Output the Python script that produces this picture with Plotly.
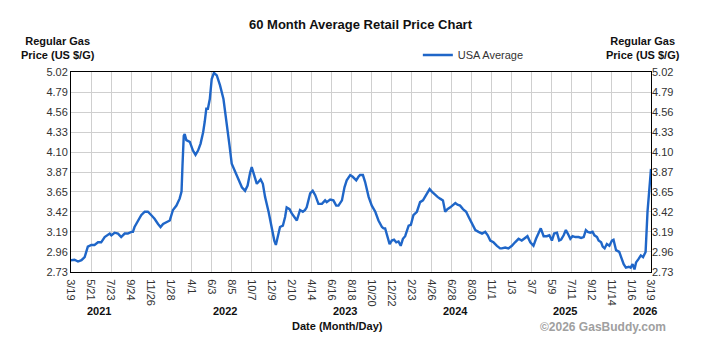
import plotly.graph_objects as go

# ---- data ----
dates = [
    "2021-03-19", "2021-03-30", "2021-04-10", "2021-04-21", "2021-05-01", "2021-05-11", "2021-05-22",
    "2021-06-01", "2021-06-12", "2021-06-22", "2021-07-03", "2021-07-13", "2021-07-19", "2021-07-24",
    "2021-08-03", "2021-08-14", "2021-08-24", "2021-09-04", "2021-09-14", "2021-09-25", "2021-09-30",
    "2021-10-05", "2021-10-16", "2021-10-26", "2021-11-06", "2021-11-16", "2021-11-27", "2021-12-07",
    "2021-12-18", "2021-12-26", "2022-01-03", "2022-01-13", "2022-01-24", "2022-02-03", "2022-02-14",
    "2022-02-24", "2022-03-02", "2022-03-05", "2022-03-09", "2022-03-12", "2022-03-17", "2022-03-28",
    "2022-04-07", "2022-04-15", "2022-04-23", "2022-05-01", "2022-05-09", "2022-05-14", "2022-05-19",
    "2022-05-24", "2022-05-30", "2022-06-05", "2022-06-12", "2022-06-21", "2022-07-01", "2022-07-12",
    "2022-07-22", "2022-07-31", "2022-08-07", "2022-08-18", "2022-08-28", "2022-09-08", "2022-09-18",
    "2022-09-26", "2022-10-04", "2022-10-09", "2022-10-14", "2022-10-25", "2022-10-30", "2022-11-06",
    "2022-11-13", "2022-11-20", "2022-12-01", "2022-12-11", "2022-12-19", "2022-12-24", "2023-01-01",
    "2023-01-06", "2023-01-15", "2023-01-22", "2023-01-27", "2023-02-05", "2023-02-12", "2023-02-23",
    "2023-02-28", "2023-03-05", "2023-03-10", "2023-03-19", "2023-03-26", "2023-03-31", "2023-04-11",
    "2023-04-19", "2023-04-27", "2023-05-07", "2023-05-18", "2023-05-28", "2023-06-02", "2023-06-13",
    "2023-06-23", "2023-07-02", "2023-07-09", "2023-07-20", "2023-07-28", "2023-08-04", "2023-08-15",
    "2023-08-23", "2023-09-03", "2023-09-10", "2023-09-15", "2023-09-24", "2023-10-01", "2023-10-12",
    "2023-10-22", "2023-11-02", "2023-11-12", "2023-11-23", "2023-11-28", "2023-12-03", "2023-12-10",
    "2023-12-17", "2023-12-24", "2023-12-31", "2024-01-07", "2024-01-14", "2024-01-21", "2024-01-28",
    "2024-02-04", "2024-02-15", "2024-02-22", "2024-03-01", "2024-03-12", "2024-03-22", "2024-03-31",
    "2024-04-07", "2024-04-14", "2024-04-21", "2024-04-28", "2024-05-09", "2024-05-16", "2024-05-24",
    "2024-06-02", "2024-06-09", "2024-06-16", "2024-06-25", "2024-07-03", "2024-07-11", "2024-07-18",
    "2024-07-26", "2024-08-04", "2024-08-14", "2024-08-22", "2024-09-01", "2024-09-12", "2024-09-22",
    "2024-10-03", "2024-10-13", "2024-10-21", "2024-10-29", "2024-11-08", "2024-11-19", "2024-11-29",
    "2024-12-04", "2024-12-15", "2024-12-25", "2025-01-05", "2025-01-15", "2025-01-26", "2025-02-05",
    "2025-02-16", "2025-02-23", "2025-03-04", "2025-03-14", "2025-03-22", "2025-03-30", "2025-04-06",
    "2025-04-15", "2025-04-25", "2025-05-03", "2025-05-11", "2025-05-18", "2025-05-27", "2025-06-03",
    "2025-06-09", "2025-06-17", "2025-06-24", "2025-06-30", "2025-07-08", "2025-07-15", "2025-07-24",
    "2025-08-03", "2025-08-11", "2025-08-19", "2025-08-26", "2025-09-01", "2025-09-09", "2025-09-16",
    "2025-09-22", "2025-09-30", "2025-10-05", "2025-10-13", "2025-10-18", "2025-10-24", "2025-10-31",
    "2025-11-08", "2025-11-16", "2025-11-21", "2025-11-29", "2025-12-09", "2025-12-15", "2025-12-23",
    "2025-12-30", "2026-01-08", "2026-01-14", "2026-01-20", "2026-01-26", "2026-01-31", "2026-02-08",
    "2026-02-15", "2026-02-22", "2026-03-02", "2026-03-08", "2026-03-14", "2026-03-19",
]
usa_average = [
    2.865, 2.87, 2.85, 2.865, 2.90, 3.02, 3.04,
    3.04, 3.07, 3.07, 3.13, 3.15, 3.17, 3.15,
    3.18, 3.17, 3.13, 3.17, 3.17, 3.19, 3.19,
    3.245, 3.32, 3.38, 3.42, 3.42, 3.38, 3.34,
    3.28, 3.245, 3.28, 3.30, 3.32, 3.44, 3.49,
    3.57, 3.65, 3.95, 4.29, 4.31, 4.24, 4.22,
    4.12, 4.07, 4.12, 4.20, 4.33, 4.45, 4.60,
    4.60, 4.71, 4.94, 5.01, 4.98, 4.87, 4.71,
    4.45, 4.18, 3.97, 3.87, 3.80, 3.70, 3.66,
    3.72, 3.87, 3.93, 3.87, 3.74, 3.76, 3.79,
    3.74, 3.59, 3.42, 3.23, 3.09, 3.04, 3.15,
    3.245, 3.26, 3.36, 3.47, 3.45, 3.40, 3.35,
    3.32, 3.38, 3.44, 3.42, 3.44, 3.47, 3.63,
    3.66, 3.61, 3.51, 3.51, 3.55, 3.53, 3.56,
    3.55, 3.49, 3.49, 3.55, 3.70, 3.78, 3.84,
    3.82, 3.78, 3.82, 3.84, 3.84, 3.76, 3.59,
    3.49, 3.42, 3.32, 3.245, 3.23, 3.23, 3.15,
    3.05, 3.09, 3.10, 3.07, 3.08, 3.03, 3.11,
    3.14, 3.26, 3.27, 3.38, 3.42, 3.53, 3.55,
    3.59, 3.63, 3.68, 3.65, 3.61, 3.59, 3.57,
    3.55, 3.42, 3.45, 3.47, 3.49, 3.52, 3.50,
    3.49, 3.45, 3.42, 3.36, 3.28, 3.21, 3.19,
    3.17, 3.19, 3.15, 3.09, 3.07, 3.03, 3.00,
    3.00, 3.01, 3.00, 3.03, 3.07, 3.11, 3.09,
    3.12, 3.14, 3.07, 3.03, 3.11, 3.17, 3.23,
    3.14, 3.14, 3.15, 3.09, 3.17, 3.18, 3.09,
    3.10, 3.15, 3.21, 3.17, 3.11, 3.14, 3.13,
    3.13, 3.12, 3.13, 3.21, 3.19, 3.18, 3.19,
    3.15, 3.13, 3.09, 3.07, 3.02, 3.00, 3.05,
    3.03, 3.09, 3.10, 2.98, 2.96, 2.90, 2.82,
    2.78, 2.79, 2.78, 2.82, 2.76, 2.84, 2.88,
    2.92, 2.90, 2.96, 3.42, 3.68, 3.91,
]

tick_labels = ["3/19", "5/21", "7/23", "9/24", "11/26", "1/28", "4/1", "6/3", "8/5", "10/7",
               "12/9", "2/10", "4/14", "6/16", "8/18", "10/20", "12/22", "2/23", "4/26", "6/28",
               "8/30", "11/1", "1/3", "3/7", "5/9", "7/11", "9/12", "11/14", "1/16", "3/19"]
tick_years = [2021, 2021, 2021, 2021, 2021, 2022, 2022, 2022, 2022, 2022,
              2022, 2023, 2023, 2023, 2023, 2023, 2023, 2024, 2024, 2024,
              2024, 2024, 2025, 2025, 2025, 2025, 2025, 2025, 2026, 2026]
y_tick_labels = ["2.73", "2.96", "3.19", "3.42", "3.65", "3.87", "4.10", "4.33", "4.56", "4.79", "5.02"]
year_labels = ["2021", "2022", "2023", "2024", "2025", "2026"]

# ---- build ----
tickvals = []
for lab, yr in zip(tick_labels, tick_years):
    m, d = lab.split("/")
    tickvals.append(f"{yr}-{int(m):02d}-{int(d):02d}")
y_vals = [float(v) for v in y_tick_labels]

FONT = "Liberation Sans, Arial, sans-serif"
LINE = "#1f66c8"

fig = go.Figure()
fig.add_trace(go.Scatter(x=dates, y=usa_average, mode="lines", name="USA Average",
                         line=dict(color=LINE, width=2.4), yaxis="y"))
fig.add_trace(go.Scatter(x=dates, y=usa_average, mode="lines", showlegend=False,
                         line=dict(color=LINE, width=0), opacity=0, hoverinfo="skip", yaxis="y2"))

axis_common = dict(showline=True, linecolor="black", linewidth=1, mirror=True,
                   gridcolor="#cfcfcf", gridwidth=1, zeroline=False,
                   tickfont=dict(family=FONT, size=11, color="#333333"))

fig.update_layout(
    width=723, height=350,
    margin=dict(l=71, r=72, t=72, b=78),
    paper_bgcolor="white", plot_bgcolor="white",
    font=dict(family=FONT, color="#222222"),
    showlegend=True,
    legend=dict(x=0.598, y=1.085, xanchor="left", yanchor="middle",
                font=dict(family=FONT, size=11, color="#333333"),
                bgcolor="rgba(0,0,0,0)", itemwidth=30),
    xaxis=dict(type="date", range=[tickvals[0], tickvals[-1]],
               tickmode="array", tickvals=tickvals, ticktext=tick_labels, tickangle=90,
               ticks="", ticklabelstandoff=4, **axis_common),
    yaxis=dict(range=[y_vals[0], y_vals[-1]], tickmode="array", tickvals=y_vals,
               ticktext=y_tick_labels, ticks="", **axis_common),
    yaxis2=dict(range=[y_vals[0], y_vals[-1]], tickmode="array", tickvals=y_vals,
                ticktext=y_tick_labels, overlaying="y", side="right", ticks="",
                showgrid=False, showline=False, zeroline=False,
                tickfont=dict(family=FONT, size=11, color="#333333")),
)

def px(xpix):
    return (xpix - 71) / 580.0
def py(ypix):
    return (272 - ypix) / 200.0

annotations = [
    dict(text="<b>60 Month Average Retail Price Chart</b>", x=px(361), y=py(25),
         font=dict(size=13, family=FONT, color="#111111")),
    dict(text="<b>Regular Gas<br>Price (US $/G)</b>", x=px(58), y=py(48),
         font=dict(size=11, family=FONT, color="#111111")),
    dict(text="<b>Regular Gas<br>Price (US $/G)</b>", x=px(643), y=py(48),
         font=dict(size=11, family=FONT, color="#111111")),
    dict(text="<b>Date (Month/Day)</b>", x=px(337), y=py(326),
         font=dict(size=11, family=FONT, color="#111111")),
    dict(text="<b>©2026 GasBuddy.com</b>", x=px(603), y=py(327),
         font=dict(size=12, family=FONT, color="#a0a0a0")),
]
for lab, xp in zip(year_labels, [99, 225, 345, 455, 565, 645]):
    annotations.append(dict(text=f"<b>{lab}</b>", x=px(xp), y=py(311),
                            font=dict(size=11, family=FONT, color="#111111")))
for a in annotations:
    a.update(xref="paper", yref="paper", showarrow=False, xanchor="center", yanchor="middle")
fig.update_layout(annotations=annotations)

fig.write_html("out.html")
